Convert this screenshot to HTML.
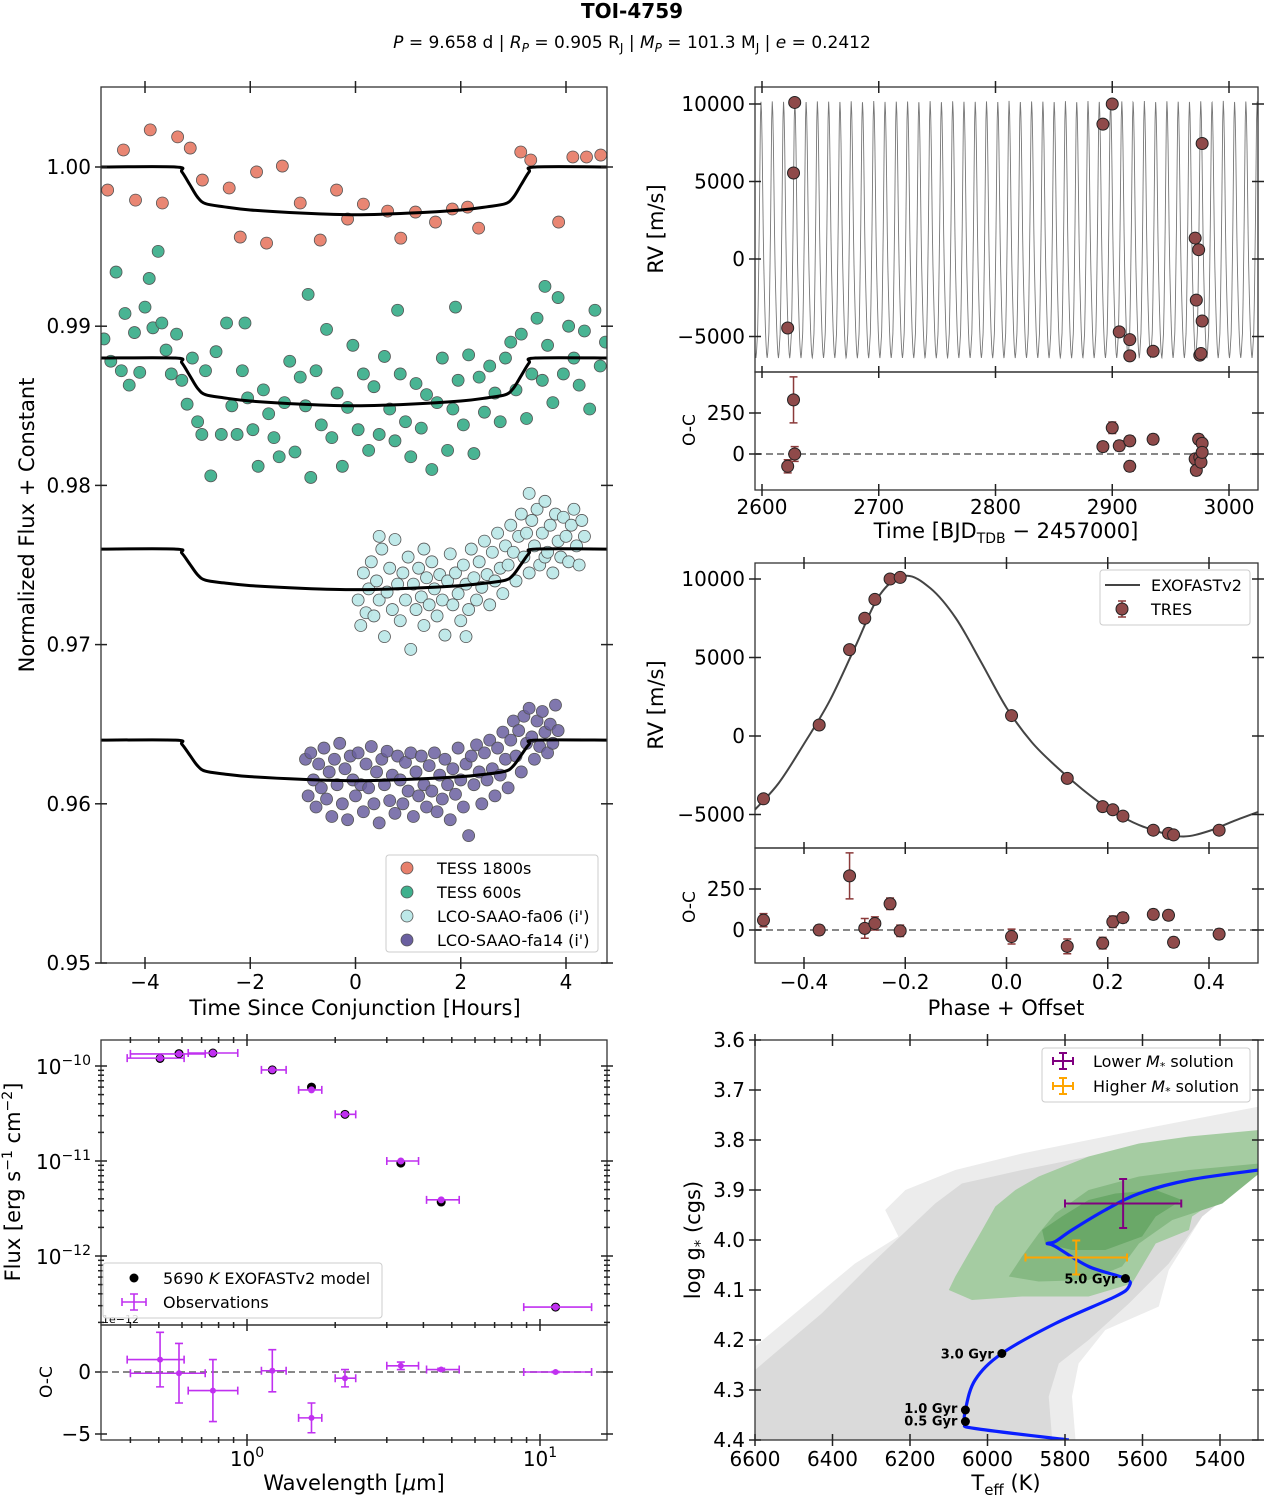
<!DOCTYPE html>
<html><head><meta charset="utf-8"><title>TOI-4759</title>
<style>
html,body{margin:0;padding:0;background:#fff;}
svg text{font-family:"DejaVu Sans","Liberation Sans",sans-serif;}
</style></head>
<body>
<svg id="fig" xmlns="http://www.w3.org/2000/svg" width="1265" height="1498" viewBox="0 0 1265 1498">
<rect x="0" y="0" width="1265" height="1498" fill="#fff"/>
<text x="632" y="18" text-anchor="middle" font-size="20" font-weight="bold">TOI-4759</text>
<text x="632" y="48" text-anchor="middle" font-size="17"><tspan font-style="italic">P</tspan> = 9.658 d | <tspan font-style="italic">R</tspan><tspan font-size="12" dy="4" font-style="italic">P</tspan><tspan dy="-4"> = 0.905 R</tspan><tspan font-size="12" dy="4">J</tspan><tspan dy="-4"> | </tspan><tspan font-style="italic">M</tspan><tspan font-size="12" dy="4" font-style="italic">P</tspan><tspan dy="-4"> = 101.3 M</tspan><tspan font-size="12" dy="4">J</tspan><tspan dy="-4"> | </tspan><tspan font-style="italic">e</tspan> = 0.2412</text>
<defs>
<clipPath id="clipA"><rect x="101" y="87" width="506" height="876"/></clipPath>
<clipPath id="clipB"><rect x="755" y="87" width="503" height="285"/></clipPath>
<clipPath id="clipC"><rect x="755" y="563" width="503" height="285"/></clipPath>
<clipPath id="clipE"><rect x="755" y="1040" width="503" height="400"/></clipPath>
</defs>
</svg>
<script>
// ---------------- DATA ----------------
// Panel A: transit light curves [hours, normalized flux]
const tess1800 = [[-4.71,0.99855],[-4.41,1.00107],[-4.18,0.99792],[-3.90,1.00233],[-3.67,0.99774],[-3.38,1.00189],[-3.14,1.00119],[-2.91,0.99918],[-2.40,0.99868],[-2.19,0.99560],[-1.88,0.99969],[-1.69,0.99522],[-1.39,1.00006],[-1.05,0.99774],[-0.67,0.99541],[-0.36,0.99855],[-0.15,0.99673],[0.15,0.99767],[0.61,0.99723],[0.86,0.99553],[1.14,0.99717],[1.52,0.99654],[1.84,0.99736],[2.13,0.99748],[2.34,0.99616],[3.14,1.00094],[3.33,1.00044],[3.86,0.99654],[4.13,1.00063],[4.39,1.00063],[4.66,1.00075]];
const tess600 = [[-4.78,0.9892],[-4.65,0.9878],[-4.55,0.9934],[-4.45,0.9872],[-4.38,0.9908],[-4.3,0.9863],[-4.2,0.9896],[-4.1,0.9871],[-4.0,0.9912],[-3.92,0.9930],[-3.85,0.9899],[-3.75,0.9947],[-3.68,0.9902],[-3.6,0.9885],[-3.5,0.9870],[-3.4,0.9895],[-3.3,0.9866],[-3.2,0.9851],[-3.1,0.9880],[-3.0,0.9840],[-2.92,0.9832],[-2.85,0.9872],[-2.75,0.9806],[-2.65,0.9884],[-2.55,0.9832],[-2.45,0.9902],[-2.35,0.9850],[-2.25,0.9832],[-2.15,0.9872],[-2.1,0.9902],[-2.05,0.9855],[-1.95,0.9835],[-1.85,0.9812],[-1.75,0.9860],[-1.65,0.9845],[-1.55,0.9830],[-1.45,0.9818],[-1.35,0.9852],[-1.25,0.9878],[-1.15,0.9821],[-1.05,0.9868],[-0.95,0.9850],[-0.9,0.9920],[-0.85,0.9805],[-0.75,0.9872],[-0.65,0.9838],[-0.55,0.9898],[-0.45,0.9830],[-0.35,0.9858],[-0.25,0.9812],[-0.15,0.9849],[-0.05,0.9888],[0.05,0.9835],[0.15,0.9870],[0.25,0.9822],[0.35,0.9862],[0.45,0.9832],[0.55,0.9881],[0.65,0.9848],[0.75,0.9828],[0.8,0.9910],[0.85,0.9870],[0.95,0.9840],[1.05,0.9818],[1.15,0.9864],[1.25,0.9836],[1.35,0.9857],[1.45,0.9810],[1.55,0.9852],[1.65,0.9880],[1.75,0.9822],[1.85,0.9848],[1.9,0.9912],[1.95,0.9866],[2.05,0.9838],[2.15,0.9882],[2.25,0.9820],[2.35,0.9868],[2.45,0.9846],[2.55,0.9875],[2.65,0.9858],[2.75,0.9840],[2.85,0.9880],[2.95,0.9890],[3.05,0.9860],[3.15,0.9895],[3.25,0.9842],[3.35,0.9870],[3.45,0.9905],[3.55,0.9866],[3.6,0.9925],[3.65,0.9888],[3.75,0.9852],[3.85,0.9918],[3.95,0.9870],[4.05,0.9900],[4.15,0.9880],[4.25,0.9863],[4.35,0.9897],[4.45,0.9848],[4.55,0.9910],[4.65,0.9875],[4.75,0.9890]];
const lcoFa06 = [[0.05,0.9728],[0.1,0.9712],[0.15,0.9745],[0.2,0.9720],[0.25,0.9735],[0.3,0.9752],[0.35,0.9718],[0.4,0.9740],[0.45,0.9728],[0.45,0.9768],[0.5,0.9760],[0.55,0.9705],[0.6,0.9733],[0.65,0.9748],[0.7,0.9722],[0.75,0.9766],[0.8,0.9738],[0.85,0.9715],[0.9,0.9745],[0.95,0.9728],[1.0,0.9755],[1.05,0.9697],[1.1,0.9738],[1.15,0.9722],[1.2,0.9748],[1.25,0.9730],[1.3,0.9712],[1.3,0.9760],[1.35,0.9742],[1.4,0.9725],[1.45,0.9752],[1.5,0.9735],[1.55,0.9718],[1.6,0.9744],[1.65,0.9728],[1.7,0.9706],[1.75,0.9740],[1.8,0.9757],[1.85,0.9725],[1.9,0.9745],[1.95,0.9732],[2.0,0.9715],[2.05,0.9750],[2.1,0.9738],[2.1,0.9705],[2.15,0.9722],[2.2,0.9760],[2.25,0.9742],[2.3,0.9728],[2.35,0.9752],[2.4,0.9736],[2.45,0.9765],[2.5,0.9744],[2.55,0.9725],[2.6,0.9758],[2.65,0.9740],[2.7,0.9770],[2.75,0.9748],[2.8,0.9732],[2.85,0.9762],[2.9,0.9750],[2.95,0.9775],[3.0,0.9758],[3.05,0.9740],[3.1,0.9768],[3.15,0.9782],[3.2,0.9755],[3.25,0.9770],[3.3,0.9745],[3.3,0.9795],[3.35,0.9778],[3.4,0.9762],[3.45,0.9785],[3.5,0.9750],[3.55,0.9770],[3.6,0.9790],[3.6,0.9755],[3.65,0.9758],[3.7,0.9775],[3.75,0.9745],[3.8,0.9782],[3.85,0.9765],[3.9,0.9755],[3.95,0.9780],[4.0,0.9768],[4.05,0.9752],[4.1,0.9775],[4.15,0.9785],[4.2,0.9762],[4.25,0.9750],[4.3,0.9778],[4.35,0.9768]];
const lcoFa14 = [[-0.95,0.9628],[-0.9,0.9605],[-0.85,0.9632],[-0.8,0.9615],[-0.75,0.9598],[-0.7,0.9625],[-0.65,0.9610],[-0.6,0.9635],[-0.55,0.9603],[-0.5,0.9620],[-0.45,0.9592],[-0.4,0.9628],[-0.35,0.9612],[-0.3,0.9638],[-0.25,0.9600],[-0.2,0.9622],[-0.15,0.9590],[-0.1,0.9630],[-0.05,0.9615],[0.0,0.9605],[0.05,0.9632],[0.1,0.9612],[0.15,0.9595],[0.2,0.9625],[0.25,0.9610],[0.3,0.9636],[0.35,0.9600],[0.4,0.9620],[0.45,0.9588],[0.5,0.9628],[0.55,0.9612],[0.6,0.9633],[0.65,0.9602],[0.7,0.9618],[0.75,0.9594],[0.8,0.9630],[0.85,0.9615],[0.9,0.9600],[0.95,0.9626],[1.0,0.9608],[1.05,0.9632],[1.1,0.9592],[1.15,0.9620],[1.2,0.9605],[1.25,0.9630],[1.3,0.9612],[1.35,0.9598],[1.4,0.9624],[1.45,0.9608],[1.5,0.9632],[1.55,0.9595],[1.6,0.9618],[1.65,0.9603],[1.7,0.9628],[1.75,0.9612],[1.8,0.9590],[1.85,0.9622],[1.9,0.9606],[1.95,0.9635],[2.0,0.9615],[2.05,0.9598],[2.1,0.9625],[2.15,0.9580],[2.2,0.9630],[2.25,0.9612],[2.3,0.9637],[2.35,0.9620],[2.4,0.9600],[2.45,0.9632],[2.5,0.9615],[2.55,0.9640],[2.6,0.9622],[2.65,0.9605],[2.7,0.9635],[2.75,0.9618],[2.8,0.9645],[2.85,0.9628],[2.9,0.9610],[2.95,0.9640],[3.0,0.9652],[3.05,0.9630],[3.1,0.9646],[3.15,0.9620],[3.2,0.9655],[3.25,0.9638],[3.3,0.9660],[3.35,0.9642],[3.4,0.9628],[3.45,0.9652],[3.5,0.9636],[3.55,0.9658],[3.6,0.9645],[3.65,0.9632],[3.7,0.9650],[3.75,0.9638],[3.8,0.9662],[3.85,0.9646]];
const transitNames = ["TESS 1800s","TESS 600s","LCO-SAAO-fa06 (i')","LCO-SAAO-fa14 (i')"];
const transitOffsets = [1.000,0.988,0.976,0.964];
const transitDepthScale = [1.0,1.0,0.85,0.85];
const modelT = [-4.84,-3.42,-3.3,-3.15,-3.0,-2.85,-2.5,-2,-1,0,1,2,2.5,2.85,3.0,3.15,3.3,3.42,4.84];
const modelDepth = [0,0,-0.0003,-0.0011,-0.0019,-0.0023,-0.0025,-0.0027,-0.0029,-0.0030,-0.0029,-0.0027,-0.0025,-0.0023,-0.0019,-0.0011,-0.0003,0,0];
const transitXTicks = [-4,-2,0,2,4];
const transitYTicks = [0.95,0.96,0.97,0.98,0.99,1.00];

// Panel B: RV vs time
const rvTime = [2622,2627,2628,2892,2900,2906,2915,2915,2935,2971,2972,2974,2975,2976,2977,2977];
const rvVal = [-4450,5550,10100,8700,10000,-4700,-5200,-6250,-5950,1350,-2650,600,-6200,-6100,-4000,7450];
const rvRes = [-75,330,0,45,160,50,80,-75,90,-30,-100,90,-20,-50,65,10];
const rvErr = [40,140,45,30,35,30,30,30,30,30,30,30,30,30,30,30];
const period = 9.658;
const tPeak = 2628;
const timeTicks = [2600,2700,2800,2900,3000];
const rvTicks = [-5000,0,5000,10000];
const resTicks = [0,250];

// Panel C: phased RV
const phaseModelX = [-0.5,-0.45,-0.4,-0.35,-0.3,-0.25,-0.2,-0.15,-0.1,-0.05,0,0.05,0.1,0.15,0.2,0.25,0.3,0.35,0.4,0.45,0.5];
const phaseModelY = [-4800,-3000,-500,2200,5600,9000,10200,9400,7500,4700,1800,-400,-2000,-3400,-4600,-5500,-6100,-6400,-6050,-5400,-4800];
const phasePts = [-0.48,-0.37,-0.31,-0.28,-0.26,-0.23,-0.21,0.01,0.12,0.19,0.21,0.23,0.29,0.32,0.33,0.42];
const phaseRV = [-4000,700,5500,7500,8700,10000,10100,1300,-2700,-4500,-4700,-5100,-6000,-6200,-6300,-6000];
const phaseRes = [60,0,330,10,40,160,-5,-40,-100,-80,50,75,95,90,-75,-25];
const phaseErr = [40,30,140,60,40,35,35,45,45,35,35,30,30,30,30,30];
const phaseTicks = [-0.4,-0.2,0.0,0.2,0.4];

// Panel D: SED
const sedWl = [0.505,0.586,0.765,1.22,1.66,2.16,3.35,4.6,11.3];
const sedWlLo = [0.39,0.40,0.63,1.12,1.5,2.0,3.0,4.1,8.8];
const sedWlHi = [0.61,0.72,0.93,1.36,1.8,2.35,3.85,5.3,15.0];
const sedObs = [1.21e-10,1.34e-10,1.37e-10,9.1e-11,5.6e-11,3.1e-11,1.0e-11,3.9e-12,2.9e-13];
const sedModel = [1.20e-10,1.35e-10,1.37e-10,9.1e-11,6.0e-11,3.1e-11,9.5e-12,3.7e-12,2.9e-13];
const sedRes = [1.0,-0.1,-1.5,0.1,-3.7,-0.5,0.5,0.2,0.0];
const sedResErr = [2.2,2.4,2.5,1.7,1.2,0.7,0.3,0.1,0.05];
const sedYTicks = [-12,-11,-10];
const sedResTicks = [0,-5];

// Panel E: HR diagram
const trackTeff = [5790,6032,6057,6057,6032,5963,5825,5670,5635,5644,5739,5825,5846,5825,5782,5696,5609,5480,5299];
const trackLogg = [4.4,4.377,4.367,4.34,4.28,4.227,4.167,4.113,4.093,4.077,4.053,4.013,4.007,4.003,3.98,3.94,3.907,3.88,3.86];
const ageLabels = ["0.5 Gyr","1.0 Gyr","3.0 Gyr","5.0 Gyr"];
const ageTeff = [6057,6057,5963,5644];
const ageLogg = [4.363,4.34,4.227,4.077];
const solTeff = [5650,5771];
const solLogg = [3.927,4.035];
const solTeffErr = [150,131];
const solLoggErr = [0.049,0.034];
const solNames = ["Lower M* solution","Higher M* solution"];
const solColors = ["#800080","#ffa500"];
const grayOuter = [[6600,4.213],[6342,4.047],[6230,3.993],[6264,3.94],[6212,3.9],[6083,3.86],[5911,3.827],[5739,3.8],[5566,3.773],[5299,3.733],[5299,3.86],[5446,3.953],[5532,4.06],[5558,4.133],[5696,4.18],[5765,4.247],[5782,4.313],[5773,4.4],[6600,4.4]];
const grayInner = [[6600,4.26],[6428,4.147],[6299,4.047],[6135,3.927],[6066,3.887],[5911,3.86],[5739,3.833],[5566,3.813],[5299,3.807],[5299,3.86],[5446,3.953],[5532,4.047],[5635,4.127],[5739,4.2],[5816,4.247],[5842,4.313],[5833,4.4],[6600,4.4]];
const greenLight = [[6100,4.1],[6083,4.073],[6014,3.98],[5980,3.933],[5928,3.9],[5868,3.873],[5739,3.833],[5609,3.807],[5480,3.793],[5299,3.78],[5299,3.867],[5394,3.913],[5472,3.953],[5480,3.98],[5566,4.007],[5627,4.087],[5739,4.113],[5911,4.113],[6040,4.12]];
const greenMid = [[5945,4.073],[5911,4.033],[5868,3.987],[5825,3.947],[5739,3.9],[5609,3.873],[5480,3.86],[5299,3.847],[5299,3.867],[5394,3.927],[5523,3.96],[5609,4.007],[5653,4.053],[5739,4.08],[5868,4.083]];
const greenDark = [[5859,3.98],[5808,3.953],[5739,3.92],[5670,3.907],[5566,3.9],[5498,3.92],[5566,3.953],[5601,3.993],[5696,4.02],[5782,4.02],[5851,4.007]];
const teffTicks = [6600,6400,6200,6000,5800,5600,5400];
const loggTicks = [3.6,3.7,3.8,3.9,4.0,4.1,4.2,4.3,4.4];

// ---------------- HELPERS ----------------
const NS = "http://www.w3.org/2000/svg";
const svg = document.getElementById("fig");
function mk(tag, attrs, parent){
  const e = document.createElementNS(NS, tag);
  for (const k in attrs) e.setAttribute(k, attrs[k]);
  (parent || svg).appendChild(e);
  return e;
}
function lin(d0,d1,p0,p1){ return v => p0 + (v-d0)*(p1-p0)/(d1-d0); }
function txt(x,y,s,size,anchor,name,extra){
  const t = mk("text",Object.assign({x:x,y:y,"font-size":size,"text-anchor":anchor||"middle"},extra||{}));
  t.textContent = s;
  
  
  return t;
}
function frame(x,y,w,h,name){
  const r = mk("rect",{x:x,y:y,width:w,height:h,fill:"none",stroke:"#333","stroke-width":1.3});
  
  
}
function tick(x1,y1,x2,y2,name){
  const l = mk("line",{x1:x1,y1:y1,x2:x2,y2:y2,stroke:"#222","stroke-width":1.5});
  
  
}
function xTicks(vals,sx,yTop,yBot,labels,fmt,len,name){
  vals.forEach(v=>{ const x=sx(v);
    tick(x,yBot-len,x,yBot+len,name);
    tick(x,yTop-len,x,yTop+len,name);
    if(labels) txt(x,yBot+26,fmt(v),20,"middle",name+"-label");
  });
}
function yTicks(vals,sy,xL,xR,labels,fmt,len,name){
  vals.forEach(v=>{ const y=sy(v);
    tick(xL-len,y,xL+len,y,name);
    tick(xR-len,y,xR+len,y,name);
    if(labels) txt(xL-10,y+7,fmt(v),20,"end",name+"-label");
  });
}
function minus(s){ return String(s).replace("-","\u2212"); }
function rotLabel(x,y,s,size,name){
  const t = txt(x,y,s,size,"middle",name,{transform:`rotate(-90 ${x} ${y})`});
  return t;
}
function crSpline(pts){ // catmull-rom path
  let d = `M${pts[0][0]},${pts[0][1]}`;
  for(let i=0;i<pts.length-1;i++){
    const p0=pts[Math.max(0,i-1)],p1=pts[i],p2=pts[i+1],p3=pts[Math.min(pts.length-1,i+2)];
    const c1x=p1[0]+(p2[0]-p0[0])/6,c1y=p1[1]+(p2[1]-p0[1])/6;
    const c2x=p2[0]-(p3[0]-p1[0])/6,c2y=p2[1]-(p3[1]-p1[1])/6;
    d+=` C${c1x},${c1y} ${c2x},${c2y} ${p2[0]},${p2[1]}`;
  }
  return d;
}
function interp(xs,ys,x){
  for(let i=0;i<xs.length-1;i++){ if(x<=xs[i+1]){ const f=(x-xs[i])/(xs[i+1]-xs[i]); return ys[i]+f*(ys[i+1]-ys[i]); } }
  return ys[ys.length-1];
}

// ---------------- PANEL A ----------------
(function(){
  const sx = lin(-4,4,145,566), sy = lin(0.95,1.00,963,167);
  const g = mk("g",{"clip-path":"url(#clipA)"});
  
  
  const sets = [tess1800,tess600,lcoFa06,lcoFa14];
  const cols = ["#e8806c","#3fb08d","#bde8e8","#6a5fa0"];
  sets.forEach((ds,k)=>{
    ds.forEach(p=>{
      const c = mk("circle",{cx:sx(p[0]),cy:sy(p[1]),r:6,fill:cols[k],stroke:"#555","stroke-width":0.8,"fill-opacity":k==3?0.85:0.95},g);
      
      
    });
    const pts = modelT.map((t,i)=>[sx(t), sy(transitOffsets[k]+modelDepth[i]*transitDepthScale[k])]);
    const m = mk("path",{d:crSpline(pts),fill:"none",stroke:"#000","stroke-width":3},g);
    
    
  });
  frame(101,87,506,876,"transit-axes-frame");
  xTicks(transitXTicks,sx,87,963,true,v=>minus(v),6,"transit-x-tick");
  yTicks(transitYTicks,sy,101,607,true,v=>v.toFixed(2),6,"transit-y-tick");
  txt(355,1015,"Time Since Conjunction [Hours]",21,"middle","transit-x-axis-title");
  rotLabel(34,525,"Normalized Flux + Constant",21,"transit-y-axis-title");
  const lg = mk("rect",{x:386,y:855,width:212,height:97,fill:"#fff","fill-opacity":0.85,stroke:"#ccc",rx:3});
  
  
  transitNames.forEach((n,k)=>{
    const y=868+k*24;
    const c = mk("circle",{cx:407,cy:y,r:6,fill:cols[k],stroke:"#555","stroke-width":0.8});
    
    
    txt(437,y+6,n,16,"start","legend-entry-"+k);
  });
})();

// ---------------- PANEL B ----------------
(function(){
  const sx = lin(2600,3000,762,1229), sy = lin(0,10000,259,104), sr = lin(0,250,454,413);
  const g = mk("g",{"clip-path":"url(#clipB)"});
  
  
  let d="";
  for(let t=2590;t<=3030;t+=0.1){
    let ph = (t-tPeak)/period - 0.21;
    ph = ph - Math.floor(ph+0.5);
    const v = interp(phaseModelX,phaseModelY,ph);
    d += (d?"L":"M")+sx(t).toFixed(2)+","+sy(v).toFixed(2);
  }
  const m = mk("path",{d:d,fill:"none",stroke:"#777","stroke-width":0.9},g);
  
  
  rvTime.forEach((t,i)=>{
    const c = mk("circle",{cx:sx(t),cy:sy(rvVal[i]),r:6,fill:"#8f4a4a",stroke:"#222","stroke-width":1});
    
    
  });
  frame(755,87,503,285,"rv-time-frame");
  frame(755,372,503,118,"rv-time-residual-frame");
  const z = mk("line",{x1:755,x2:1258,y1:sr(0),y2:sr(0),stroke:"#777","stroke-width":1.8,"stroke-dasharray":"7,4"});
  
  
  rvTime.forEach((t,i)=>{
    const x=sx(t);
    const e = mk("path",{d:`M${x},${sr(rvRes[i]-rvErr[i])}V${sr(rvRes[i]+rvErr[i])}M${x-4},${sr(rvRes[i]-rvErr[i])}h8M${x-4},${sr(rvRes[i]+rvErr[i])}h8`,stroke:"#8b3a3a","stroke-width":1.5,fill:"none"});
    
    
    const c = mk("circle",{cx:x,cy:sr(rvRes[i]),r:6,fill:"#8f4a4a",stroke:"#222","stroke-width":1});
    
    
  });
  xTicks(timeTicks,sx,87,490,false,null,6,"rv-time-x-tick");
  timeTicks.forEach(v=>{ tick(sx(v),366,sx(v),378,"rv-time-x-tick"); txt(sx(v),514,String(v),20,"middle","rv-time-x-tick-label"); });
  yTicks(rvTicks,sy,755,1258,true,v=>minus(v),6,"rv-time-y-tick");
  yTicks(resTicks,sr,755,1258,true,v=>String(v),6,"rv-time-res-tick");
  const tl = txt(1006,538,"",21,"middle","rv-time-x-axis-title");
  tl.innerHTML = 'Time [BJD<tspan font-size="14" dy="5">TDB</tspan><tspan dy="-5"> \u2212 2457000]</tspan>';
  rotLabel(663,229,"RV [m/s]",21,"rv-time-y-axis-title");
  rotLabel(695,430,"O-C",17,"rv-time-residual-y-title");
})();

// ---------------- PANEL C ----------------
(function(){
  const sx = lin(-0.4,0.4,804,1209), sy = lin(0,10000,736,579), sr = lin(0,250,930,889);
  const g = mk("g",{"clip-path":"url(#clipC)"});
  
  
  const pts = phaseModelX.map((p,i)=>[sx(p),sy(phaseModelY[i])]);
  const m = mk("path",{d:crSpline(pts),fill:"none",stroke:"#444","stroke-width":2},g);
  
  
  phasePts.forEach((p,i)=>{
    const c = mk("circle",{cx:sx(p),cy:sy(phaseRV[i]),r:6,fill:"#8f4a4a",stroke:"#222","stroke-width":1});
    
    
  });
  frame(755,563,503,285,"rv-phase-frame");
  frame(755,848,503,115,"rv-phase-residual-frame");
  const z = mk("line",{x1:755,x2:1258,y1:sr(0),y2:sr(0),stroke:"#777","stroke-width":1.8,"stroke-dasharray":"7,4"});
  
  
  phasePts.forEach((p,i)=>{
    const x=sx(p);
    const e = mk("path",{d:`M${x},${sr(phaseRes[i]-phaseErr[i])}V${sr(phaseRes[i]+phaseErr[i])}M${x-4},${sr(phaseRes[i]-phaseErr[i])}h8M${x-4},${sr(phaseRes[i]+phaseErr[i])}h8`,stroke:"#8b3a3a","stroke-width":1.5,fill:"none"});
    
    
    const c = mk("circle",{cx:x,cy:sr(phaseRes[i]),r:6,fill:"#8f4a4a",stroke:"#222","stroke-width":1});
    
    
  });
  xTicks(phaseTicks,sx,563,963,true,v=>minus(v.toFixed(1)),6,"rv-phase-x-tick");
  phaseTicks.forEach(v=>tick(sx(v),842,sx(v),854,"rv-phase-x-tick"));
  yTicks(rvTicks,sy,755,1258,true,v=>minus(v),6,"rv-phase-y-tick");
  yTicks(resTicks,sr,755,1258,true,v=>String(v),6,"rv-phase-res-tick");
  txt(1006,1015,"Phase + Offset",21,"middle","rv-phase-x-axis-title");
  rotLabel(663,705,"RV [m/s]",21,"rv-phase-y-axis-title");
  rotLabel(695,907,"O-C",17,"rv-phase-residual-y-title");
  const lg = mk("rect",{x:1100,y:570,width:150,height:55,fill:"#fff",stroke:"#ccc",rx:3});
  
  
  const ll = mk("line",{x1:1105,x2:1140,y1:585,y2:585,stroke:"#444","stroke-width":2});
  
  
  txt(1151,591,"EXOFASTv2",16,"start","rv-legend-model");
  const le = mk("path",{d:"M1122,601V617M1118,601h8M1118,617h8",stroke:"#8b3a3a","stroke-width":1.5});
  
  
  const lc = mk("circle",{cx:1122,cy:609,r:6,fill:"#8f4a4a",stroke:"#222","stroke-width":1});
  
  
  txt(1151,615,"TRES",16,"start","rv-legend-tres");
})();

// ---------------- PANEL D ----------------
(function(){
  const sx = w => 247 + 293*Math.log10(w);
  const sy = f => 1066 - 95*(Math.log10(f)+10);
  const sr = lin(0,-5,1372,1434);
  frame(101,1040,506,285,"sed-frame");
  frame(101,1325,506,115,"sed-residual-frame");
  // major & minor ticks x
  [1,10].forEach(v=>{ const x=sx(v); tick(x,1034,x,1046,"sed-x-tick"); tick(x,1319,x,1331,"sed-x-tick"); tick(x,1434,x,1446,"sed-x-tick");
    const t=txt(x,1466,"",20,"middle","sed-x-tick-label"); t.innerHTML = `10<tspan font-size="14" dy="-9">${v==1?0:1}</tspan>`; });
  [0.4,0.5,0.6,0.7,0.8,0.9,2,3,4,5,6,7,8,9,20].forEach(v=>{ const x=sx(v); if(x>101&&x<607){ tick(x,1037,x,1043,"sed-x-minor-tick"); tick(x,1322,x,1328,"sed-x-minor-tick"); tick(x,1437,x,1443,"sed-x-minor-tick"); }});
  sedYTicks.forEach(e=>{ const y=sy(Math.pow(10,e)); tick(95,y,107,y,"sed-y-tick"); tick(601,y,613,y,"sed-y-tick");
    const t=txt(91,y+8,"",20,"end","sed-y-tick-label"); t.innerHTML = `10<tspan font-size="14" dy="-9">\u2212${-e}</tspan>`;
    for(let m=2;m<=9;m++){ const yy=sy(m*Math.pow(10,e)); if(yy>1040&&yy<1325){ tick(98,yy,104,yy,"sed-y-minor-tick"); tick(604,yy,610,yy,"sed-y-minor-tick"); } }
  });
  for(let m=2;m<=9;m++){ const yy=sy(m*1e-13); if(yy>1040&&yy<1325){ tick(98,yy,104,yy,"sed-y-minor-tick"); tick(604,yy,610,yy,"sed-y-minor-tick"); } }
  txt(102,1323,"1e\u221212",11,"start","sed-offset-text");
  sedResTicks.forEach(v=>{ const y=sr(v); tick(95,y,107,y,"sed-res-tick"); tick(601,y,613,y,"sed-res-tick"); txt(91,y+7,minus(v),20,"end","sed-res-tick-label"); });
  const pc="#c030f0";
  sedWl.forEach((w,i)=>{
    const c = mk("circle",{cx:sx(w),cy:sy(sedModel[i]),r:4.5,fill:"#000"});
    
    
    const y=sy(sedObs[i]);
    const e = mk("path",{d:`M${sx(sedWlLo[i])},${y}H${sx(sedWlHi[i])}M${sx(sedWlLo[i])},${y-4}v8M${sx(sedWlHi[i])},${y-4}v8`,stroke:pc,"stroke-width":1.6,fill:"none"});
    
    
    const o = mk("circle",{cx:sx(w),cy:y,r:3.5,fill:pc});
    
    
  });
  const z = mk("line",{x1:101,x2:607,y1:sr(0),y2:sr(0),stroke:"#777","stroke-width":1.8,"stroke-dasharray":"7,4"});
  
  
  sedWl.forEach((w,i)=>{
    const x=sx(w), y=sr(sedRes[i]), y1=sr(sedRes[i]-sedResErr[i]), y2=sr(sedRes[i]+sedResErr[i]);
    const e = mk("path",{d:`M${sx(sedWlLo[i])},${y}H${sx(sedWlHi[i])}M${sx(sedWlLo[i])},${y-4}v8M${sx(sedWlHi[i])},${y-4}v8M${x},${y1}V${y2}M${x-4},${y1}h8M${x-4},${y2}h8`,stroke:pc,"stroke-width":1.6,fill:"none"});
    
    
    const o = mk("circle",{cx:x,cy:y,r:3,fill:pc});
    
    
  });
  const lg = mk("rect",{x:103,y:1263,width:279,height:55,fill:"#fff","fill-opacity":0.85,stroke:"#ccc",rx:3});
  
  
  const lm = mk("circle",{cx:134,cy:1278,r:4.5,fill:"#000"});
  
  
  const t1 = txt(163,1284,"",16,"start","sed-legend-model");
  t1.innerHTML = '5690 <tspan font-style="italic">K</tspan> EXOFASTv2 model';
  const le = mk("path",{d:"M122,1302H146M134,1294V1310M130,1294h8M130,1310h8M122,1298v8M146,1298v8",stroke:pc,"stroke-width":1.6,fill:"none"});
  
  
  txt(163,1308,"Observations",16,"start","sed-legend-obs");
  const xl = txt(354,1490,"",21,"middle","sed-x-axis-title");
  xl.innerHTML = 'Wavelength [<tspan font-style="italic">\u03bc</tspan>m]';
  const yl = rotLabel(20,1182,"",21,"sed-y-axis-title");
  yl.innerHTML = 'Flux [erg s<tspan font-size="14" dy="-8">\u22121</tspan><tspan dy="8"> cm</tspan><tspan font-size="14" dy="-8">\u22122</tspan><tspan dy="8">]</tspan>';
  rotLabel(52,1382,"O-C",17,"sed-residual-y-title");
})();

// ---------------- PANEL E ----------------
(function(){
  const sx = lin(6600,5400,755,1220), sy = lin(3.6,4.4,1040,1440);
  const g = mk("g",{"clip-path":"url(#clipE)"});
  
  
  const polys = [[grayOuter,"#ececec","hr-contour-gray-outer"],[grayInner,"#dadada","hr-contour-gray-inner"],[greenLight,"#a5cca2","hr-contour-green-outer"],[greenMid,"#86b983","hr-contour-green-mid"],[greenDark,"#6aa868","hr-contour-green-inner"]];
  polys.forEach(p=>{
    const pts = p[0].map(q=>sx(q[0]).toFixed(1)+","+sy(q[1]).toFixed(1)).join(" ");
    const pg = mk("polygon",{points:pts,fill:p[1]},g);
    
    
  });
  const tr = mk("path",{d:crSpline(trackTeff.map((t,i)=>[sx(t),sy(trackLogg[i])])),fill:"none",stroke:"#0a1eff","stroke-width":3.2},g);
  
  
  ageLabels.forEach((a,i)=>{
    const c = mk("circle",{cx:sx(ageTeff[i]),cy:sy(ageLogg[i]),r:4.5,fill:"#000"},g);
    
    
    txt(sx(ageTeff[i])-8,sy(ageLogg[i])+(i==0?4:i==1?3:5),a,13,"end","hr-age-label",{"font-weight":"bold"});
  });
  solTeff.forEach((t,i)=>{
    const x=sx(t), y=sy(solLogg[i]), x1=sx(t+solTeffErr[i]), x2=sx(t-solTeffErr[i]), y1=sy(solLogg[i]-solLoggErr[i]), y2=sy(solLogg[i]+solLoggErr[i]);
    const e = mk("path",{d:`M${x1},${y}H${x2}M${x1},${y-4}v8M${x2},${y-4}v8M${x},${y1}V${y2}M${x-4},${y1}h8M${x-4},${y2}h8`,stroke:solColors[i],"stroke-width":2,fill:"none"});
    
    
  });
  frame(755,1040,503,400,"hr-frame");
  xTicks(teffTicks,sx,1040,1440,true,v=>String(v),6,"hr-x-tick");
  yTicks(loggTicks,sy,755,1258,true,v=>v.toFixed(1),6,"hr-y-tick");
  const xl = txt(1006,1490,"",21,"middle","hr-x-axis-title");
  xl.innerHTML = 'T<tspan font-size="15" dy="5">eff</tspan><tspan dy="-5"> (K)</tspan>';
  const yl = rotLabel(700,1240,"",21,"hr-y-axis-title");
  yl.innerHTML = 'log g<tspan font-size="15" dy="5">*</tspan><tspan dy="-5"> (cgs)</tspan>';
  const lg = mk("rect",{x:1042,y:1048,width:208,height:54,fill:"#fff",stroke:"#ccc",rx:3});
  
  
  solNames.forEach((n,i)=>{
    const y=1061+i*25;
    const m = mk("path",{d:`M1053,${y}H1073M1053,${y-4}v8M1073,${y-4}v8M1063,${y-8}V${y+8}M1059,${y-8}h8M1059,${y+8}h8`,stroke:solColors[i],"stroke-width":2,fill:"none"});
    
    
    const t = txt(1093,y+6,"",16,"start","hr-legend-entry");
    t.innerHTML = (i==0?"Lower ":"Higher ")+'<tspan font-style="italic">M</tspan><tspan font-size="11" dy="3">*</tspan><tspan dy="-3"> solution</tspan>';
  });
})();
</script>
</body></html>
